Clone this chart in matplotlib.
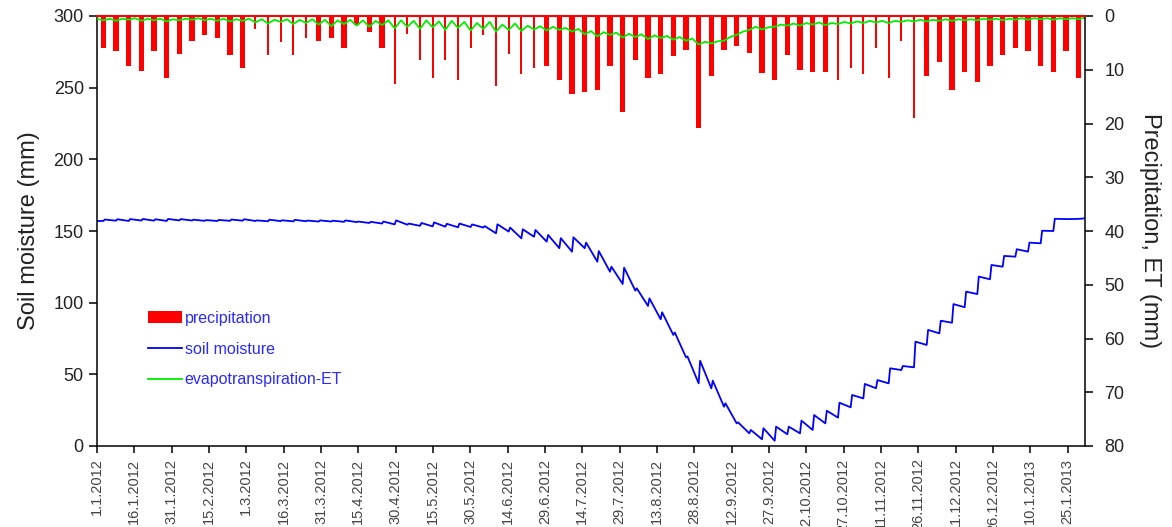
import datetime as dt
import matplotlib
matplotlib.use('Agg')
import matplotlib.pyplot as plt
import matplotlib.dates as mdates
from matplotlib.ticker import FuncFormatter, MultipleLocator
from matplotlib.patches import Patch
from matplotlib.lines import Line2D

plt.rcParams['font.family'] = ['Liberation Sans', 'DejaVu Sans']

# Period covered by the water balance run
start = dt.datetime(2012, 1, 1)
end = dt.datetime(2013, 2, 1)

# Precipitation per 5-day step (mm)
precip = [5.9, 6.6, 9.3, 10.3, 6.6, 11.5, 7.0, 4.7, 3.6, 4.0,
          7.3, 9.6, 2.5, 7.3, 4.8, 7.3, 4.0, 4.7, 4.0, 5.9,
          1.7, 2.9, 5.9, 12.6, 3.3, 8.1, 11.5, 8.1, 11.9, 5.9,
          3.6, 13.0, 7.0, 10.7, 9.6, 9.3, 11.9, 14.5, 14.1, 13.7,
          9.3, 17.9, 8.1, 11.5, 10.7, 7.4, 6.3, 20.9, 11.1, 6.3,
          5.5, 6.9, 10.6, 11.9, 7.3, 10.0, 10.4, 10.4, 11.9, 9.6,
          10.7, 5.9, 11.5, 4.7, 19.0, 11.1, 8.5, 13.7, 10.4, 12.2,
          9.3, 7.3, 5.9, 6.6, 9.3, 10.4, 6.6, 11.5]

# Soil moisture (mm) just before and just after each rain
sm_start = 157.0
sm_end = 158.9
sm_before = [157.0, 157.2, 157.0, 157.3, 157.2, 157.0, 157.4, 157.3, 157.1, 157.0,
             157.1, 157.2, 157.0, 156.8, 156.9, 156.7, 156.8, 156.6, 156.6, 156.4,
             156.2, 155.6, 155.2, 154.6, 154.4, 153.6, 153.2, 153.0, 152.6, 152.8,
             152.4, 148.4, 149.6, 144.9, 146.0, 142.6, 138.0, 135.6, 138.0, 128.6,
             121.6, 113.0, 108.4, 97.7, 88.4, 77.5, 61.9, 43.7, 40.2, 27.4,
             15.8, 8.8, 4.7, 3.7, 8.2, 8.8, 11.2, 15.8, 19.8, 27.0,
             33.2, 40.3, 43.7, 53.0, 54.9, 70.5, 78.6, 86.0, 96.8, 106.0,
             116.3, 125.1, 132.1, 135.6, 141.4, 150.0, 158.3, 158.5]
sm_after = [158.0, 158.2, 158.3, 158.4, 158.2, 158.4, 158.3, 157.9, 157.6, 157.7,
            158.0, 158.2, 157.4, 157.9, 157.5, 157.8, 157.3, 157.4, 157.2, 157.4,
            156.6, 156.4, 156.6, 157.4, 155.2, 155.6, 156.0, 155.0, 155.2, 154.6,
            153.4, 154.7, 152.4, 151.2, 150.7, 147.2, 145.0, 145.6, 141.9, 136.0,
            125.1, 124.4, 110.0, 103.0, 93.3, 79.2, 62.5, 59.5, 45.6, 29.8,
            16.5, 11.2, 12.4, 13.5, 13.5, 17.7, 21.6, 24.6, 30.2, 35.6,
            43.3, 46.0, 54.2, 55.8, 72.8, 81.0, 87.4, 99.0, 107.7, 118.2,
            126.3, 132.6, 137.3, 141.9, 150.2, 158.5, 158.3, 158.5]

# Evapotranspiration (mm) on rain days and between them
et_start = 0.5
et_rain = [0.8, 0.9, 0.7, 0.9, 0.8, 1.0, 0.8, 0.7, 0.8, 0.9,
           1.0, 0.9, 1.2, 1.4, 1.1, 1.5, 1.3, 1.6, 1.9, 1.5,
           1.8, 2.0, 1.7, 2.3, 2.0, 2.4, 2.1, 2.6, 2.2, 2.7,
           2.4, 2.9, 2.6, 2.8, 2.5, 2.7, 2.6, 2.9, 3.4, 3.8,
           3.5, 4.0, 3.9, 4.3, 4.1, 4.4, 4.6, 5.3, 5.1, 4.6,
           3.5, 2.6, 2.5, 2.0, 1.8, 1.8, 1.6, 1.7, 1.5, 1.4,
           1.3, 1.2, 1.3, 1.1, 1.0, 1.0, 0.9, 0.9, 0.8, 0.8,
           0.7, 0.8, 0.7, 0.7, 0.6, 0.7, 0.6, 0.6]
et_dry = [0.5, 0.5, 0.4, 0.5, 0.5, 0.6, 0.5, 0.4, 0.5, 0.5,
          0.6, 0.5, 0.6, 0.7, 0.6, 0.7, 0.6, 0.7, 0.8, 0.7,
          0.8, 0.9, 0.8, 0.8, 0.9, 0.8, 1.0, 0.9, 1.1, 1.3,
          1.1, 1.6, 1.4, 1.8, 1.9, 2.0, 2.2, 2.4, 2.8, 3.0,
          3.1, 3.3, 3.4, 3.6, 3.7, 3.9, 4.2, 4.8, 4.7, 3.9,
          2.9, 2.0, 2.1, 1.6, 1.4, 1.3, 1.2, 1.3, 1.1, 1.0,
          0.9, 0.9, 0.9, 0.8, 0.7, 0.7, 0.6, 0.6, 0.6, 0.5,
          0.5, 0.5, 0.4, 0.4, 0.4, 0.4, 0.4, 0.3]

# each 5-day step sits in the middle of its slot along the time axis
n = len(precip)
step = (end - start) / n
steps = [start + step * (i + 0.5) for i in range(n)]

sm_x, sm_y = [start], [sm_start]
for i in range(n):
    sm_x += [steps[i], steps[i] + dt.timedelta(hours=14)]
    sm_y += [sm_before[i], sm_after[i]]
sm_x.append(end)
sm_y.append(sm_end)

et_x, et_y = [start], [et_start]
for i in range(n):
    et_x += [steps[i], steps[i] + step / 2]
    et_y += [et_rain[i], et_dry[i]]

# some groups of bars come out narrower
narrow = set(range(12, 17)) | set(range(23, 35)) | set(range(58, 65))
widths = [0.8 if i in narrow else 2.1 for i in range(n)]

fig = plt.figure(figsize=(11.72, 5.27), dpi=100)
ax = fig.add_axes([97 / 1172, 1 - 446 / 527, 988 / 1172, 430 / 527])
ax2 = ax.twinx()

ax.plot(sm_x, sm_y, color='#0000ff', lw=1.3)
ax2.bar(steps, precip, width=widths, color='#ff0000', align='center')
ax2.plot(et_x, et_y, color='#00ee00', lw=1.3)

ax.set_xlim(start, end)
ax.set_ylim(0, 300)
ax2.set_ylim(80, 0)

ticks = [start + dt.timedelta(days=15 * k) for k in range(27)]
ax.set_xticks(ticks)
ax.xaxis.set_major_formatter(FuncFormatter(
    lambda v, pos: '{0.day}.{0.month}.{0.year}'.format(mdates.num2date(v))))
ax.yaxis.set_major_locator(MultipleLocator(50))
ax2.yaxis.set_major_locator(MultipleLocator(10))

ax.tick_params(axis='x', direction='out', length=5, width=1.1, labelsize=10.5,
               labelcolor='#444444', rotation=90, pad=4)
ax.tick_params(axis='y', direction='out', length=6, width=1.1, labelsize=13,
               labelcolor='#222222')
ax2.tick_params(axis='y', direction='out', length=6, width=1.1, labelsize=13,
                labelcolor='#222222', pad=8)

for a in (ax, ax2):
    for s in a.spines.values():
        s.set_linewidth(1.1)
ax.spines['top'].set_visible(False)
ax.spines['right'].set_visible(False)
ax2.spines['left'].set_visible(False)
ax2.spines['bottom'].set_visible(False)
ax2.spines['top'].set_color('#ff0000')
ax2.spines['top'].set_linewidth(1.5)

ax.set_ylabel('Soil moisture (mm)', fontsize=17, color='#222222', labelpad=10)
ax2.set_ylabel('Precipitation, ET (mm)', fontsize=17, color='#222222',
               rotation=270, va='bottom', labelpad=10)

handles = [Patch(facecolor='#ff0000', edgecolor='none'),
           Line2D([], [], color='#0000ff', lw=1.3),
           Line2D([], [], color='#00ee00', lw=1.3)]
labels = ['precipitation', 'soil moisture', 'evapotranspiration-ET']
ax2.legend(handles, labels, loc='upper left', bbox_to_anchor=(0.0516, 0.315),
           frameon=False, fontsize=11.5, labelcolor='#2a2aff', handlelength=2.1,
           handletextpad=0.2, labelspacing=1.0, borderpad=0, borderaxespad=0)

fig.savefig('out.png', dpi=100)
